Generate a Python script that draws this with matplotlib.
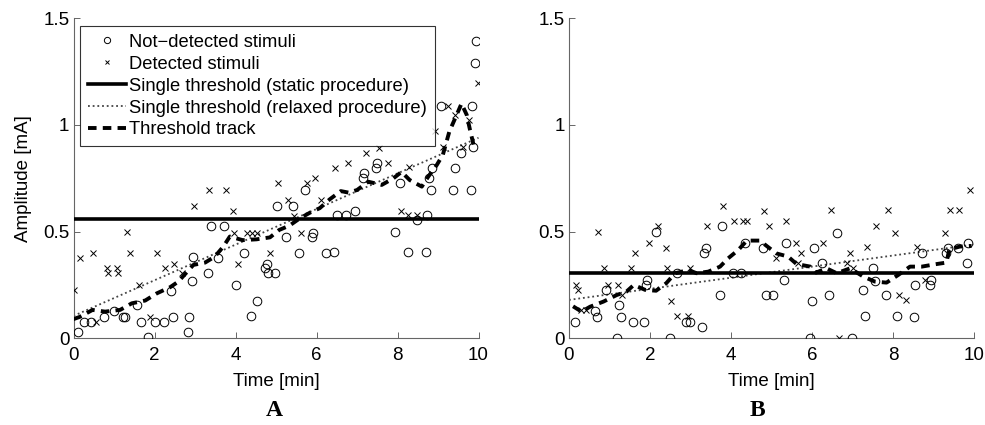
import matplotlib

matplotlib.use("Agg")
import matplotlib.pyplot as plt
from matplotlib.lines import Line2D

SANS = ["Liberation Sans", "DejaVu Sans"]
SERIF = ["Liberation Serif", "DejaVu Serif"]

# ---- panel A ----
a_nd_x = [0.12, 0.26, 0.42, 0.76, 1.0, 1.23, 1.27, 1.58, 1.66, 1.85, 2.01, 2.23, 2.41, 2.45,
          2.82, 2.86, 2.92, 2.94, 3.31, 3.39, 3.58, 3.72, 4.01, 4.22, 4.38, 4.54, 4.73, 4.77,
          4.81, 4.98, 5.02, 5.25, 5.41, 5.58, 5.72, 5.9, 5.92, 6.23, 6.44, 6.51, 6.74, 6.95,
          7.14, 7.18, 7.47, 7.5, 7.94, 8.05, 8.27, 8.47, 8.70, 8.72, 8.79, 8.82, 8.84, 9.07,
          9.38, 9.42, 9.58, 9.81, 9.83, 9.87, 9.91, 9.95]
a_nd_y = [0.03, 0.075, 0.075, 0.10, 0.13, 0.10, 0.10, 0.155, 0.075, 0.005, 0.075, 0.075, 0.22, 0.10,
          0.03, 0.10, 0.27, 0.38, 0.305, 0.527, 0.378, 0.527, 0.25, 0.40, 0.106, 0.177, 0.331, 0.35,
          0.305, 0.305, 0.622, 0.473, 0.622, 0.40, 0.695, 0.473, 0.495, 0.40, 0.403, 0.578, 0.578, 0.598,
          0.75, 0.773, 0.797, 0.82, 0.497, 0.727, 0.403, 0.555, 0.403, 0.578, 0.75, 0.695, 0.797, 1.089,
          0.695, 0.797, 0.87, 0.695, 1.089, 0.898, 1.292, 1.395]
a_d_x = [0.0, 0.16, 0.47, 0.55, 0.82, 0.86, 1.07, 1.11, 1.31, 1.40, 1.62, 1.89, 2.05, 2.26,
         2.48, 2.67, 2.97, 3.35, 3.77, 3.93, 3.97, 4.05, 4.28, 4.40, 4.52, 4.85, 5.06, 5.29,
         5.44, 5.61, 5.76, 5.96, 6.12, 6.46, 6.77, 7.21, 7.54, 7.77, 8.08, 8.27, 8.29, 8.47,
         8.93, 9.13, 9.25, 9.42, 9.62, 9.77, 9.99]
a_d_y = [0.227, 0.375, 0.40, 0.075, 0.331, 0.305, 0.331, 0.305, 0.497, 0.40, 0.25, 0.098, 0.40, 0.33,
         0.35, 0.305, 0.62, 0.695, 0.695, 0.598, 0.495, 0.35, 0.495, 0.495, 0.495, 0.40, 0.727, 0.648,
         0.573, 0.495, 0.727, 0.75, 0.648, 0.797, 0.82, 0.867, 0.894, 0.82, 0.598, 0.58, 0.805, 0.58,
         0.972, 0.898, 1.089, 1.047, 0.898, 1.023, 1.195]
a_tr_x = [0.0, 0.15, 0.47, 0.78, 1.15, 1.44, 1.77, 2.05, 2.39, 2.59, 2.75, 2.96, 3.25, 3.49, 3.7,
          3.86, 4.18, 4.52, 4.85, 5.08, 5.33, 5.59, 5.85, 6.08, 6.33, 6.6, 6.79, 7.0, 7.28, 7.61,
          7.9, 8.1, 8.3, 8.6, 8.76, 8.97, 9.12, 9.28, 9.46, 9.58, 9.71, 9.79, 9.89]
a_tr_y = [0.09, 0.10, 0.133, 0.125, 0.133, 0.164, 0.177, 0.21, 0.24, 0.266, 0.30, 0.344, 0.355,
          0.383, 0.43, 0.477, 0.46, 0.464, 0.473, 0.508, 0.528, 0.5625, 0.59, 0.61, 0.652, 0.69,
          0.683, 0.695, 0.734, 0.719, 0.75, 0.78, 0.742, 0.711, 0.758, 0.8125, 0.86, 0.969, 1.047,
          1.10, 1.047, 0.977, 0.898]
a_static = 0.56
a_relax_x = [0, 10]
a_relax_y = [0.105, 0.94]

# ---- panel B ----
b_nd_x = [0.15, 0.63, 0.68, 0.91, 1.18, 1.24, 1.28, 1.59, 1.86, 1.9, 1.93, 2.16, 2.49, 2.66,
          2.89, 2.99, 3.29, 3.33, 3.38, 3.73, 3.77, 4.04, 4.25, 4.34, 4.78, 4.86, 5.04, 5.31,
          5.35, 5.96, 6.01, 6.05, 6.24, 6.42, 6.62, 6.98, 7.27, 7.31, 7.5, 7.55, 7.83, 8.09,
          8.52, 8.54, 8.72, 8.91, 8.95, 9.32, 9.36, 9.61, 9.82, 9.86]
b_nd_y = [0.075, 0.128, 0.098, 0.227, 0.0, 0.156, 0.098, 0.075, 0.075, 0.25, 0.273, 0.497, 0.0, 0.308,
          0.075, 0.075, 0.052, 0.40, 0.425, 0.203, 0.527, 0.305, 0.305, 0.448, 0.425, 0.203, 0.203, 0.273,
          0.448, 0.0, 0.177, 0.425, 0.352, 0.203, 0.495, 0.0, 0.227, 0.106, 0.331, 0.27, 0.203, 0.106,
          0.098, 0.25, 0.40, 0.25, 0.273, 0.40, 0.425, 0.425, 0.352, 0.445]
b_d_x = [0.17, 0.23, 0.29, 0.42, 0.72, 0.86, 0.97, 1.2, 1.3, 1.53, 1.63, 1.98, 2.19, 2.4, 2.43,
         2.53, 2.67, 2.93, 2.99, 3.41, 3.81, 4.07, 4.29, 4.39, 4.82, 4.94, 5.11, 5.37, 5.6, 5.66,
         5.72, 6.28, 6.47, 6.67, 6.86, 6.94, 7.02, 7.35, 7.58, 7.88, 8.05, 8.14, 8.31, 8.6, 8.79,
         9.28, 9.41, 9.64, 9.9]
b_d_y = [0.25, 0.227, 0.133, 0.133, 0.497, 0.331, 0.25, 0.25, 0.203, 0.331, 0.40, 0.448, 0.527, 0.425,
         0.331, 0.177, 0.106, 0.106, 0.331, 0.527, 0.622, 0.552, 0.552, 0.552, 0.598, 0.527, 0.378, 0.552,
         0.448, 0.352, 0.40, 0.448, 0.60, 0.0, 0.355, 0.40, 0.33, 0.427, 0.527, 0.60, 0.495, 0.203, 0.18,
         0.427, 0.273, 0.495, 0.60, 0.60, 0.695]
b_tr_x = [0.1, 0.31, 0.52, 0.85, 1.18, 1.42, 1.6, 1.88, 2.15, 2.4, 2.62, 2.95, 3.15, 3.44, 3.73,
          3.93, 4.18, 4.39, 4.71, 4.92, 5.12, 5.41, 5.62, 5.96, 6.1, 6.36, 6.61, 6.94, 7.27, 7.55,
          7.84, 8.13, 8.42, 8.71, 9.04, 9.32, 9.39, 9.65, 9.94]
b_tr_y = [0.15, 0.125, 0.148, 0.172, 0.203, 0.219, 0.25, 0.227, 0.223, 0.258, 0.305, 0.32, 0.305,
          0.3125, 0.336, 0.375, 0.414, 0.458, 0.458, 0.427, 0.398, 0.383, 0.348, 0.336, 0.308, 0.328,
          0.305, 0.328, 0.289, 0.266, 0.261, 0.297, 0.336, 0.336, 0.347, 0.355, 0.417, 0.43, 0.433]
b_static = 0.307
b_relax_x = [0, 10]
b_relax_y = [0.18, 0.44]

XTICKS = [0, 2, 4, 6, 8, 10]
YTICKS = [0, 0.5, 1, 1.5]
YTICKLABELS = ["0", "0.5", "1", "1.5"]

AX_C = "#666666"
DOT = (0, (1, 1.6))
DASH = (0, (2.2, 1.6))


def draw(ax, nd_x, nd_y, d_x, d_y, tr_x, tr_y, static, rx, ry):
    ax.plot(nd_x, nd_y, "o", mfc="none", mec="black", ms=6.2, mew=0.7, zorder=3)
    ax.plot(d_x, d_y, "x", color="black", ms=4.2, mew=0.7, zorder=3)
    ax.plot([0, 10], [static, static], "-", color="black", lw=2.6, zorder=4)
    ax.plot(rx, ry, color="#444444", lw=1.3, ls=DOT, zorder=2)
    ax.plot(tr_x, tr_y, color="black", lw=2.8, ls=DASH, zorder=5)
    ax.set_xlim(0, 10)
    ax.set_ylim(0, 1.5)
    ax.set_xticks(XTICKS)
    ax.set_yticks(YTICKS)
    ax.set_xticklabels([str(t) for t in XTICKS], family=SANS, fontsize=13.5)
    ax.set_yticklabels(YTICKLABELS, family=SANS, fontsize=13.5)
    ax.tick_params(direction="in", length=4, width=0.7, color=AX_C)
    ax.tick_params(axis="x", pad=6.5)
    ax.tick_params(axis="y", pad=3)
    for s in ("top", "right"):
        ax.spines[s].set_visible(False)
    for s in ("left", "bottom"):
        ax.spines[s].set_color(AX_C)
        ax.spines[s].set_linewidth(0.8)
    ax.set_xlabel("Time [min]", family=SANS, fontsize=13.5, labelpad=6)
    ax.patch.set_visible(False)


fig = plt.figure(figsize=(9.85, 4.25), dpi=100)
axA = fig.add_axes([73.5 / 985, 86.7 / 425, 405 / 985, 320 / 425])
axB = fig.add_axes([569 / 985, 86.7 / 425, 405 / 985, 320 / 425])

draw(axA, a_nd_x, a_nd_y, a_d_x, a_d_y, a_tr_x, a_tr_y, a_static, a_relax_x, a_relax_y)
draw(axB, b_nd_x, b_nd_y, b_d_x, b_d_y, b_tr_x, b_tr_y, b_static, b_relax_x, b_relax_y)
axA.set_ylabel("Amplitude [mA]", family=SANS, fontsize=13.5, labelpad=8)

handles = [
    Line2D([], [], ls="none", marker="o", mfc="none", mec="black", ms=4.5, mew=0.7),
    Line2D([], [], ls="none", marker="x", color="black", ms=3.5, mew=0.7),
    Line2D([], [], color="black", lw=2.6),
    Line2D([], [], color="#444444", lw=1.3, ls=DOT),
    Line2D([], [], color="black", lw=2.8, ls=DASH),
]
labels = ["Not\u2212detected stimuli", "Detected stimuli", "Single threshold (static procedure)",
          "Single threshold (relaxed procedure)", "Threshold track"]
leg = axA.legend(handles, labels, loc="upper left", bbox_to_anchor=(0.016, 0.976),
                 borderaxespad=0, frameon=True, fancybox=False,
                 handlelength=2.1, handletextpad=0.15, labelspacing=0.27, borderpad=0.42,
                 prop={"family": SANS, "size": 13.2})
leg.get_frame().set_edgecolor("black")
leg.get_frame().set_linewidth(0.8)
leg.set_zorder(10)

fig.text(274 / 985, 1 - 411 / 425, "A", family=SERIF, fontweight="bold", fontsize=17,
         ha="center", va="center")
fig.text(757 / 985, 1 - 411 / 425, "B", family=SERIF, fontweight="bold", fontsize=17,
         ha="center", va="center")

fig.savefig("out.png", dpi=100)
